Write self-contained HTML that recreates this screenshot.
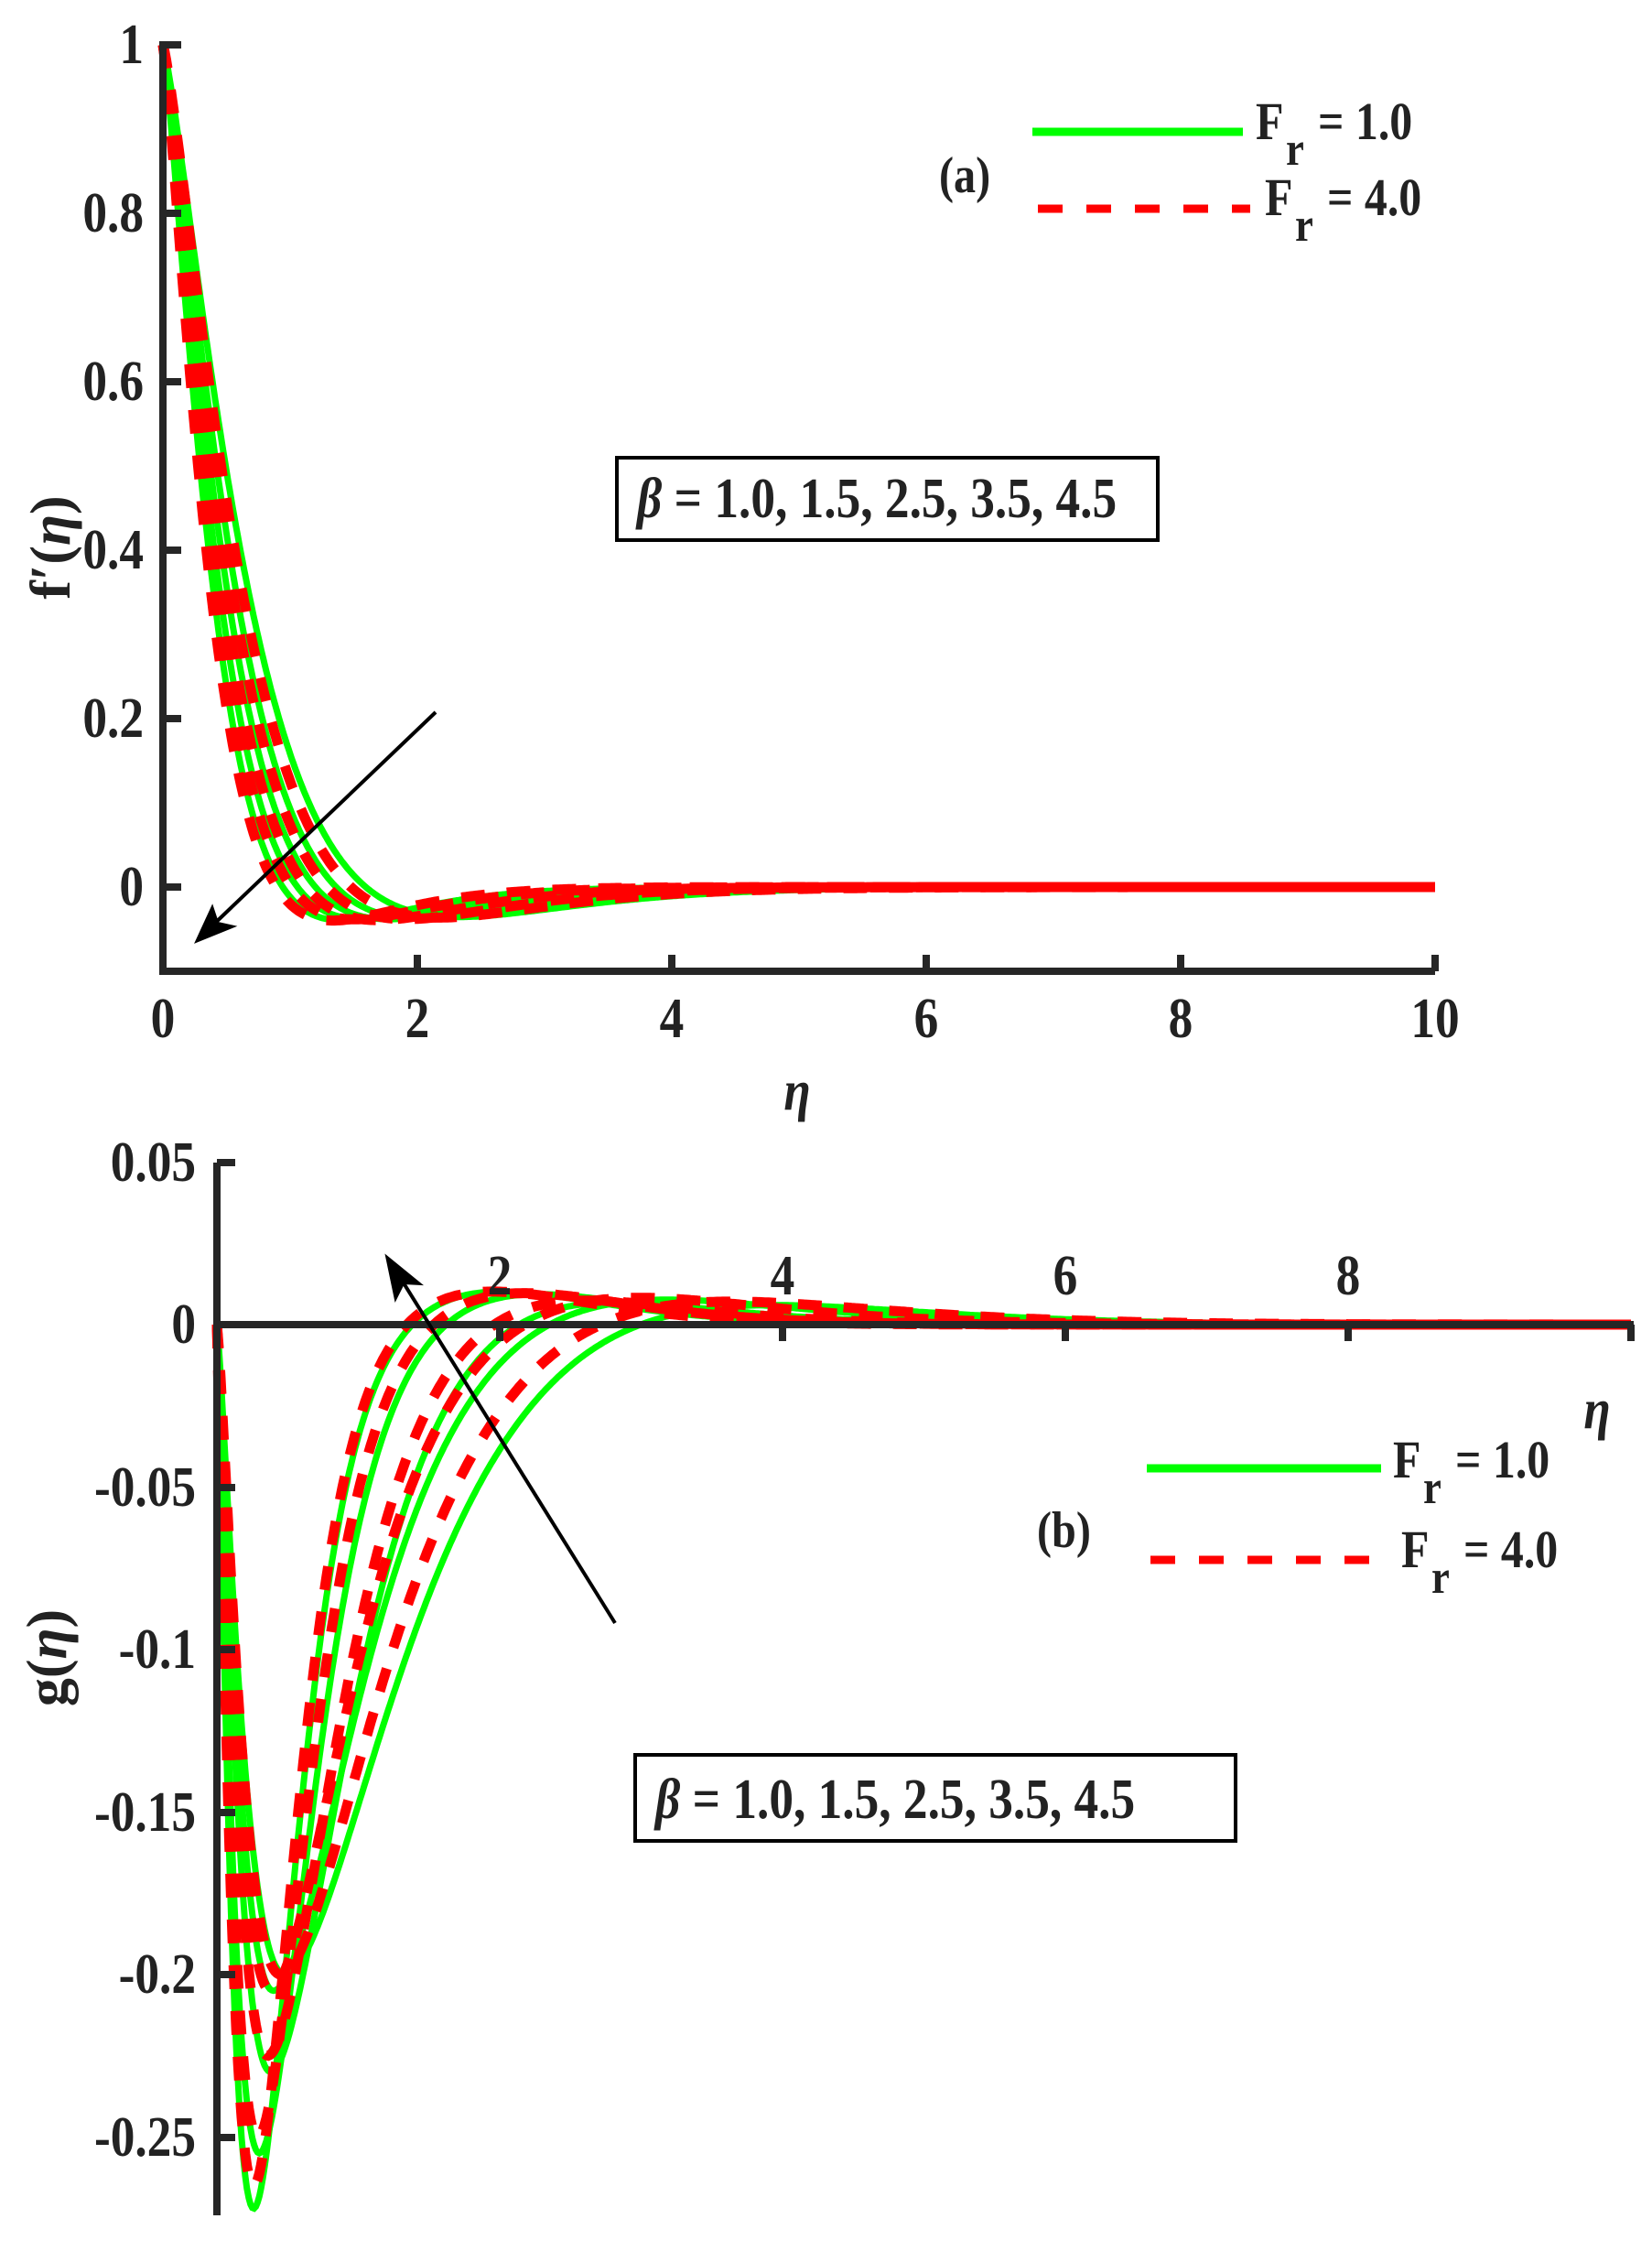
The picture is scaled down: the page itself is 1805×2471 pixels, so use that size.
<!DOCTYPE html>
<html><head><meta charset="utf-8"><style>html,body{margin:0;padding:0;background:#fff;}svg{display:block}</style></head>
<body>
<svg id="s" width="1805" height="2471" viewBox="0 0 1805 2471" xmlns="http://www.w3.org/2000/svg" font-family="'Liberation Serif', serif" font-weight="bold" fill="#222">
<g id="curves"></g>
<g id="axes" stroke="#262626" stroke-width="8" fill="none">
<path d="M178,45 V1061 H1568"/>
<path d="M178,49 H198 M178,233 H198 M178,417 H198 M178,601 H198 M178,785 H198 M178,969 H198"/>
<path d="M456,1061 V1043 M734,1061 V1043 M1012,1061 V1043 M1290,1061 V1043 M1568,1061 V1043"/>
<path d="M237,1270 V2420"/>
<path d="M237,1447 H1785"/>
<path d="M237,1270 H257 M237,1625 H257 M237,1802 H257 M237,1980 H257 M237,2157 H257 M237,2335 H257"/>
<path d="M546,1447 V1465 M855,1447 V1465 M1164,1447 V1465 M1473,1447 V1465 M1782,1447 V1465"/>
</g>
<g id="txt" font-size="62"></g>
<g stroke="#000" stroke-width="4" fill="#000">
<line x1="476" y1="778" x2="228" y2="1015"/>
<path d="M214,1029 L232,990 L238,1008 L256,1012 Z" stroke-width="2"/>
<line x1="672" y1="1773" x2="430" y2="1384"/>
<path d="M422,1372 L460,1403 L441,1402 L432,1420 Z" stroke-width="2"/>
</g>
<rect x="674" y="500" width="591" height="90" fill="none" stroke="#000" stroke-width="4"/>
<rect x="694" y="1917" width="656" height="94" fill="none" stroke="#000" stroke-width="4"/>
<line x1="1128" y1="144" x2="1358" y2="144" stroke="#00ff00" stroke-width="9"/>
<line x1="1134" y1="228" x2="1366" y2="228" stroke="#ff0000" stroke-width="9" stroke-dasharray="27,26"/>
<line x1="1253" y1="1604" x2="1509" y2="1604" stroke="#00ff00" stroke-width="9"/>
<line x1="1257" y1="1704" x2="1513" y2="1704" stroke="#ff0000" stroke-width="9" stroke-dasharray="27,26"/>
</svg>
<script>
const NS="http://www.w3.org/2000/svg";
const txt=document.getElementById('txt'), cv=document.getElementById('curves');
function T(x,y,s,opt){opt=opt||{};const t=document.createElementNS(NS,'text');
 t.setAttribute('transform',`translate(${x},${y}) scale(${opt.sx||0.86},1)`+(opt.rot?` rotate(${opt.rot})`:''));
 t.setAttribute('text-anchor',opt.a||'start'); if(opt.fs)t.setAttribute('font-size',opt.fs);
 if(opt.it)t.setAttribute('font-style','italic'); t.innerHTML=s; txt.appendChild(t);}
[['1',49],['0.8',233],['0.6',417],['0.4',601],['0.2',785],['0',969]].forEach(([s,y])=>T(157,y+20,s,{a:'end'}));
[0,2,4,6,8,10].forEach(v=>T(178+139*v,1133,String(v),{a:'middle'}));
T(871,1212,'η',{a:'middle',it:1});
T(76,598,'f′(<tspan font-style="italic">η</tspan>)',{a:'middle',rot:-90,sx:1});
[['0.05',1270],['0',1447],['-0.05',1625],['-0.1',1802],['-0.15',1980],['-0.2',2157],['-0.25',2335]].forEach(([s,y])=>T(214,y+20,s,{a:'end'}));
[2,4,6,8].forEach(v=>T(237+154.5*v,1414,String(v),{a:'middle'}));
T(1745,1560,'η',{a:'middle',it:1});
T(72,1811,'g(<tspan font-style="italic">η</tspan>)',{a:'middle',rot:-90,sx:1});
T(1372,152,'F',{fs:58});T(1405,180,'r',{fs:52});T(1440,152,'= 1.0',{fs:58});
T(1382,235,'F',{fs:58});T(1415,263,'r',{fs:52});T(1450,235,'= 4.0',{fs:58});
T(1026,210,'(a)',{fs:56});
T(1522,1614,'F',{fs:58});T(1555,1642,'r',{fs:52});T(1590,1614,'= 1.0',{fs:58});
T(1531,1712,'F',{fs:58});T(1564,1740,'r',{fs:52});T(1599,1712,'= 4.0',{fs:58});
T(1133,1690,'(b)',{fs:56});
T(696,565,'<tspan font-style="italic">β</tspan> = 1.0, 1.5, 2.5, 3.5, 4.5',{fs:62,sx:0.86});
T(716,1986,'<tspan font-style="italic">β</tspan> = 1.0, 1.5, 2.5, 3.5, 4.5',{fs:62,sx:0.86});

function path(f,X,Y,e0,e1,col,w,dash){let d='';for(let i=0;i<=800;i++){const e=e0+(e1-e0)*i/800;const v=f(e);d+=(i?'L':'M')+X(e).toFixed(1)+','+Y(v).toFixed(1);}
 const p=document.createElementNS(NS,'path');p.setAttribute('d',d);p.setAttribute('fill','none');p.setAttribute('stroke',col);p.setAttribute('stroke-width',w);
 if(dash)p.setAttribute('stroke-dasharray',dash);cv.appendChild(p);}
const Xa=e=>178+139*e, Ya=v=>969-920*v;
function fa(s,m,A){return e=>Math.exp(-Math.pow(e/s,1.25))-A*Math.pow(e/m,3)*Math.exp(3*(1-e/m));}
const ga=[[0.40,1.05],[0.45,1.15],[0.51,1.3],[0.58,1.45],[0.68,1.65]];
const ra=[[0.38,1.0],[0.43,1.1],[0.48,1.25],[0.55,1.4],[0.63,1.55]];
ga.forEach(([s,m])=>path(fa(s,m,0.055),Xa,Ya,0,10,'#00ff00',7));
ra.forEach(([s,m])=>path(fa(s,m,0.055),Xa,Ya,0,10,'#ff0000',11,'26,24'));
const Xb=e=>237+154.5*e, Yb=v=>1447-3550*v;
function fb(D,m,ql,qr,n){return e=>{const r=e/m;const q=e<m?ql:qr;let v=-D*Math.pow(r,q)*Math.exp(q*(1-r));
 const t=e/n; v+=0.011*Math.pow(t,6)*Math.exp(6*(1-t)); return v;};}
const gb=[[0.272,0.26,1.2,1.3,1.85],[0.255,0.30,1.2,1.2,2.0],[0.23,0.38,1.3,1.05,2.2],[0.205,0.40,1.3,0.95,2.6],[0.20,0.48,1.3,0.85,3.0]];
const rb=[[0.265,0.26,1.2,1.35,1.8],[0.25,0.29,1.2,1.25,1.95],[0.225,0.36,1.3,1.1,2.1],[0.205,0.38,1.3,1.0,2.5],[0.20,0.45,1.3,0.9,2.9]];
gb.forEach(p=>path(fb(...p),Xb,Yb,0,10,'#00ff00',7));
rb.forEach(p=>path(fb(...p),Xb,Yb,0,10,'#ff0000',11,'26,24'));
</script>
</body></html>
